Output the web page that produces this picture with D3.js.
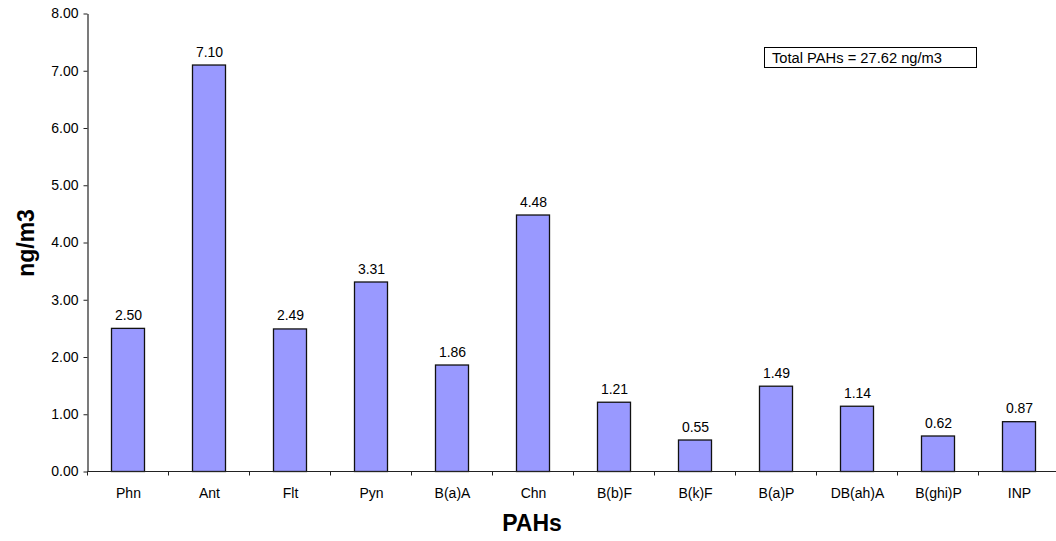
<!DOCTYPE html>
<html>
<head>
<meta charset="utf-8">
<script src="https://cdn.jsdelivr.net/npm/d3@7"></script>
<style>
  html, body { margin: 0; padding: 0; background: #fff; }
  svg { display: block; font-family: "Liberation Sans", Arial, sans-serif; }
</style>
</head>
<body>
<svg id="chart" width="1056" height="541"></svg>
<script>
// PAH concentrations (ng/m3)
const categories = ["Phn", "Ant", "Flt", "Pyn", "B(a)A", "Chn", "B(b)F", "B(k)F", "B(a)P", "DB(ah)A", "B(ghi)P", "INP"];
const values = [2.50, 7.10, 2.49, 3.31, 1.86, 4.48, 1.21, 0.55, 1.49, 1.14, 0.62, 0.87];
const yTicks = [0, 1, 2, 3, 4, 5, 6, 7, 8];
const totalLabel = "Total PAHs = 27.62 ng/m3";

const svg = d3.select("#chart");
const plotLeft = 87.5, plotRight = 1059.5, plotTop = 13.5, plotBottom = 471.5;

const x = d3.scaleBand().domain(categories).range([plotLeft, plotRight]).paddingInner(0.59).paddingOuter(0.295);
const y = d3.scaleLinear().domain([0, 8]).range([plotBottom, plotTop]);

// bars
svg.append("g").selectAll("rect").data(values).join("rect")
  .attr("x", (d, i) => Math.round(x(categories[i])) + 0.5)
  .attr("y", d => y(d))
  .attr("width", Math.round(x.bandwidth()))
  .attr("height", d => y(0) - y(d))
  .attr("fill", "#9999FF")
  .attr("stroke", "#111")
  .attr("stroke-width", 1.3);

// value labels
svg.append("g").selectAll("text").data(values).join("text")
  .attr("x", (d, i) => x(categories[i]) + x.bandwidth() / 2 + 0.5)
  .attr("y", d => y(d) - 8.5)
  .attr("text-anchor", "middle")
  .attr("font-size", 14)
  .attr("fill", "#000")
  .text(d => d.toFixed(2));

// y axis
const yAxis = svg.append("g").attr("transform", `translate(${plotLeft},0)`)
  .call(d3.axisLeft(y).tickValues(yTicks).tickFormat(d3.format(".2f")).tickSize(4).tickSizeOuter(0));
yAxis.select(".domain").attr("stroke", "#222").attr("stroke-width", 1.2);
yAxis.selectAll(".tick line").attr("stroke", "#222");
yAxis.selectAll(".tick text").attr("font-size", 14).attr("fill", "#000")
  .attr("font-family", "Liberation Sans, Arial, sans-serif").attr("x", -9);

// x axis with ticks between categories
const xAxis = svg.append("g").attr("transform", `translate(0,${plotBottom})`);
xAxis.append("line").attr("x1", plotLeft).attr("x2", plotRight).attr("y1", 0).attr("y2", 0)
  .attr("stroke", "#222").attr("stroke-width", 1.2);
const sepPositions = d3.range(categories.length + 1).map(i => plotLeft + i * x.step());
xAxis.selectAll("line.sep").data(sepPositions).join("line").attr("class", "sep")
  .attr("x1", d => d).attr("x2", d => d).attr("y1", 0).attr("y2", 4)
  .attr("stroke", "#222");
xAxis.selectAll("text").data(categories).join("text")
  .attr("x", d => x(d) + x.bandwidth() / 2 + 0.5)
  .attr("y", 26.5)
  .attr("text-anchor", "middle")
  .attr("font-size", 14)
  .attr("fill", "#000")
  .text(d => d);

// axis titles
svg.append("text")
  .attr("transform", `translate(34,243) rotate(-90)`)
  .attr("text-anchor", "middle")
  .attr("font-size", 23).attr("font-weight", "bold")
  .text("ng/m3");
svg.append("text")
  .attr("x", 532).attr("y", 531)
  .attr("text-anchor", "middle")
  .attr("font-size", 23).attr("font-weight", "bold")
  .text("PAHs");

// total annotation box
const box = svg.append("g");
box.append("rect").attr("x", 764.5).attr("y", 47.5).attr("width", 212).attr("height", 20)
  .attr("fill", "#fff").attr("stroke", "#000").attr("stroke-width", 1);
box.append("text").attr("x", 772).attr("y", 62.5).attr("font-size", 14.7).text(totalLabel);
</script>
</body>
</html>
